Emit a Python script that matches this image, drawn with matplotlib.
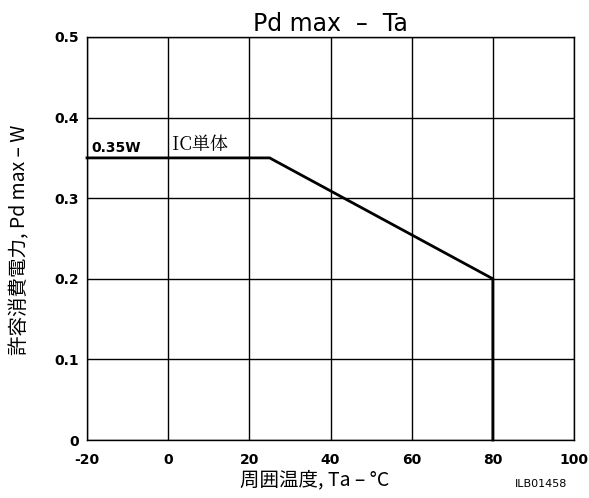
import matplotlib
matplotlib.use("Agg")
import matplotlib.pyplot as plt

plt.rcParams['font.family'] = ['DejaVu Sans', 'Noto Sans CJK JP']

# Data
ta = [-20, 25, 80, 80]
pd_max = [0.35, 0.35, 0.20, 0.0]
x_ticks = [-20, 0, 20, 40, 60, 80, 100]
y_ticks = [0, 0.1, 0.2, 0.3, 0.4, 0.5]
y_tick_labels = ['0', '0.1', '0.2', '0.3', '0.4', '0.5']

fig = plt.figure(figsize=(5.89, 4.98), dpi=100)
ax = fig.add_axes([87/589, 1-440/498, (574-87)/589, (440-37)/498])

ax.plot(ta, pd_max, color='black', lw=2, solid_joinstyle='miter', clip_on=False, zorder=3)

ax.set_xlim(-20, 100)
ax.set_ylim(0, 0.5)
ax.set_xticks(x_ticks)
ax.set_xticklabels([str(v) for v in x_ticks], fontsize=10, fontweight='bold')
ax.set_yticks(y_ticks)
ax.set_yticklabels(y_tick_labels, fontsize=10, fontweight='bold')
ax.grid(True, color='black', lw=1)
ax.tick_params(length=0)
ax.tick_params(axis='x', pad=9)
ax.tick_params(axis='y', pad=6)
for s in ax.spines.values():
    s.set_linewidth(1)
    s.set_color('black')

ax.set_title('Pd max  –  Ta', fontsize=17, pad=4)
ax.text(-19, 0.354, '0.35W', fontsize=10, va='bottom', ha='left', fontweight='bold')
ax.text(1, 0.354, 'IC単体', fontsize=13, va='bottom', ha='left',
        family=['Noto Serif CJK JP', 'Noto Sans CJK JP', 'DejaVu Serif'])

fig.text(240/589, 1-480/498, '周囲温度, Ta – °C', fontsize=14, va='center', ha='left',
         family=['Noto Sans CJK JP', 'DejaVu Sans'])
fig.text(20/589, 1-240/498, '許容消費電力, Pd max – W', fontsize=14, va='center', ha='center',
         rotation=90, family=['Noto Sans CJK JP', 'DejaVu Sans'])
fig.text(515/589, 1-484/498, 'ILB01458', fontsize=8, va='center', ha='left')

fig.savefig('out.png', dpi=100)
